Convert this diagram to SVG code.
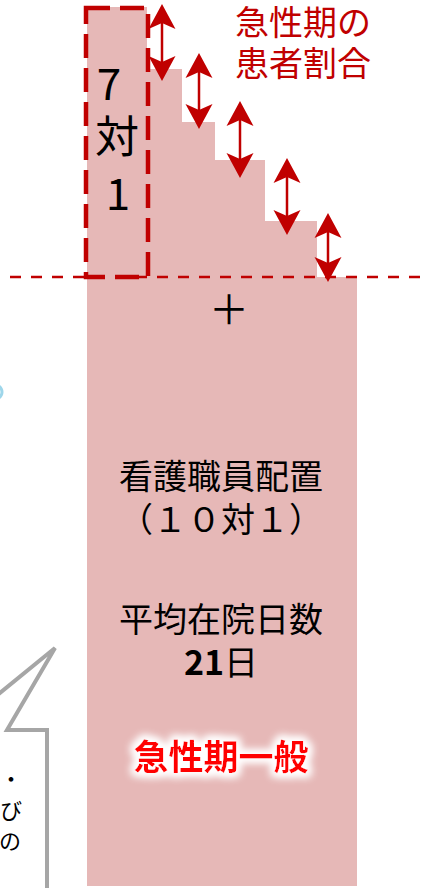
<svg xmlns="http://www.w3.org/2000/svg" width="432" height="888" viewBox="0 0 432 888">
<style>
.t{font-family:"Noto Sans CJK JP","Noto Sans",sans-serif;text-anchor:middle}
.blk{fill:#000;font-size:34px}
.red{fill:#C00000;font-size:34px}
.frag{font-family:"Noto Sans CJK JP","Noto Sans",sans-serif;text-anchor:end;font-size:22px;fill:#000}
.arr{stroke:#C00000;stroke-width:2.5;fill:none;marker-start:url(#ah);marker-end:url(#ah)}
</style>
<defs>
<marker id="ah" viewBox="-26 -14 27 28" refX="-5" refY="0" markerWidth="27" markerHeight="28" markerUnits="userSpaceOnUse" orient="auto-start-reverse">
<path d="M0,0 L-25,-13.5 L-19,0 L-25,13.5 Z" fill="#C00000"/>
</marker>
<filter id="glow" x="-20%" y="-50%" width="140%" height="200%">
<feMorphology in="SourceAlpha" operator="dilate" radius="3" result="d"/>
<feGaussianBlur in="d" stdDeviation="4" result="b"/>
<feFlood flood-color="#ffffff"/>
<feComposite in2="b" operator="in" result="g"/>
<feMerge><feMergeNode in="g"/><feMergeNode in="g"/><feMergeNode in="SourceGraphic"/></feMerge>
</filter>
</defs>
<rect width="432" height="888" fill="#fff"/>

<g id="blue-edge">
<ellipse cx="-10" cy="392" rx="12" ry="9" fill="none" stroke="#9ED6EA" stroke-width="3"/>
</g>

<g id="callout">
<path d="M-10,701 L55,648 L7,730 L47,730 L47,900 L-10,900 Z" fill="#fff" stroke="#A6A6A6" stroke-width="4" stroke-linejoin="miter"/>
<text class="frag" x="22" y="787">・</text>
<text class="frag" x="22" y="819">び</text>
<text class="frag" x="21" y="849">の</text>
</g>

<g id="staircase">
<path d="M87,7 H147 V69 H182 V122 H215 V160 H265 V221 H317 V277 H357 V886 H87 Z" fill="#E6B8B7"/>
</g>

<g id="seven-to-one">
<rect x="86" y="8" width="62" height="269" fill="none" stroke="#C00000" stroke-width="4.5" stroke-dasharray="24 10"/>
<text class="t" x="109" y="100" style="font-size:44px">7</text>
<text class="t" x="117" y="153" style="font-size:44px">対</text>
<text class="t" x="118" y="210" style="font-size:44px">1</text>
</g>

<g id="baseline">
<line x1="10" y1="277" x2="425" y2="277" stroke="#C00000" stroke-width="2.5" stroke-dasharray="11 10"/>
</g>

<g id="connectors">
<line class="arr" x1="162" y1="9" x2="162" y2="76"/>
<line class="arr" x1="199" y1="58" x2="199" y2="124"/>
<line class="arr" x1="240" y1="106" x2="240" y2="173"/>
<line class="arr" x1="287" y1="163" x2="287" y2="230"/>
<line class="arr" x1="328" y1="218" x2="328" y2="277"/>
</g>

<g id="label-ratio">
<text class="t red" x="303" y="35">急性期の</text>
<text class="t red" x="303" y="76">患者割合</text>
</g>

<g id="plus">
<text class="t" x="229" y="324" style="font-size:40px">＋</text>
</g>

<g id="general-ward">
<text class="t blk" x="221" y="489">看護職員配置</text>
<text class="t blk" x="221" y="532">（１０対１）</text>
<text class="t blk" x="221" y="632">平均在院日数</text>
<text class="t blk" x="221" y="675"><tspan font-weight="bold">21</tspan>日</text>
<text class="t" x="221" y="770" style="font-size:35px;font-weight:bold;fill:#FF0000" filter="url(#glow)">急性期一般</text>
</g>
</svg>
